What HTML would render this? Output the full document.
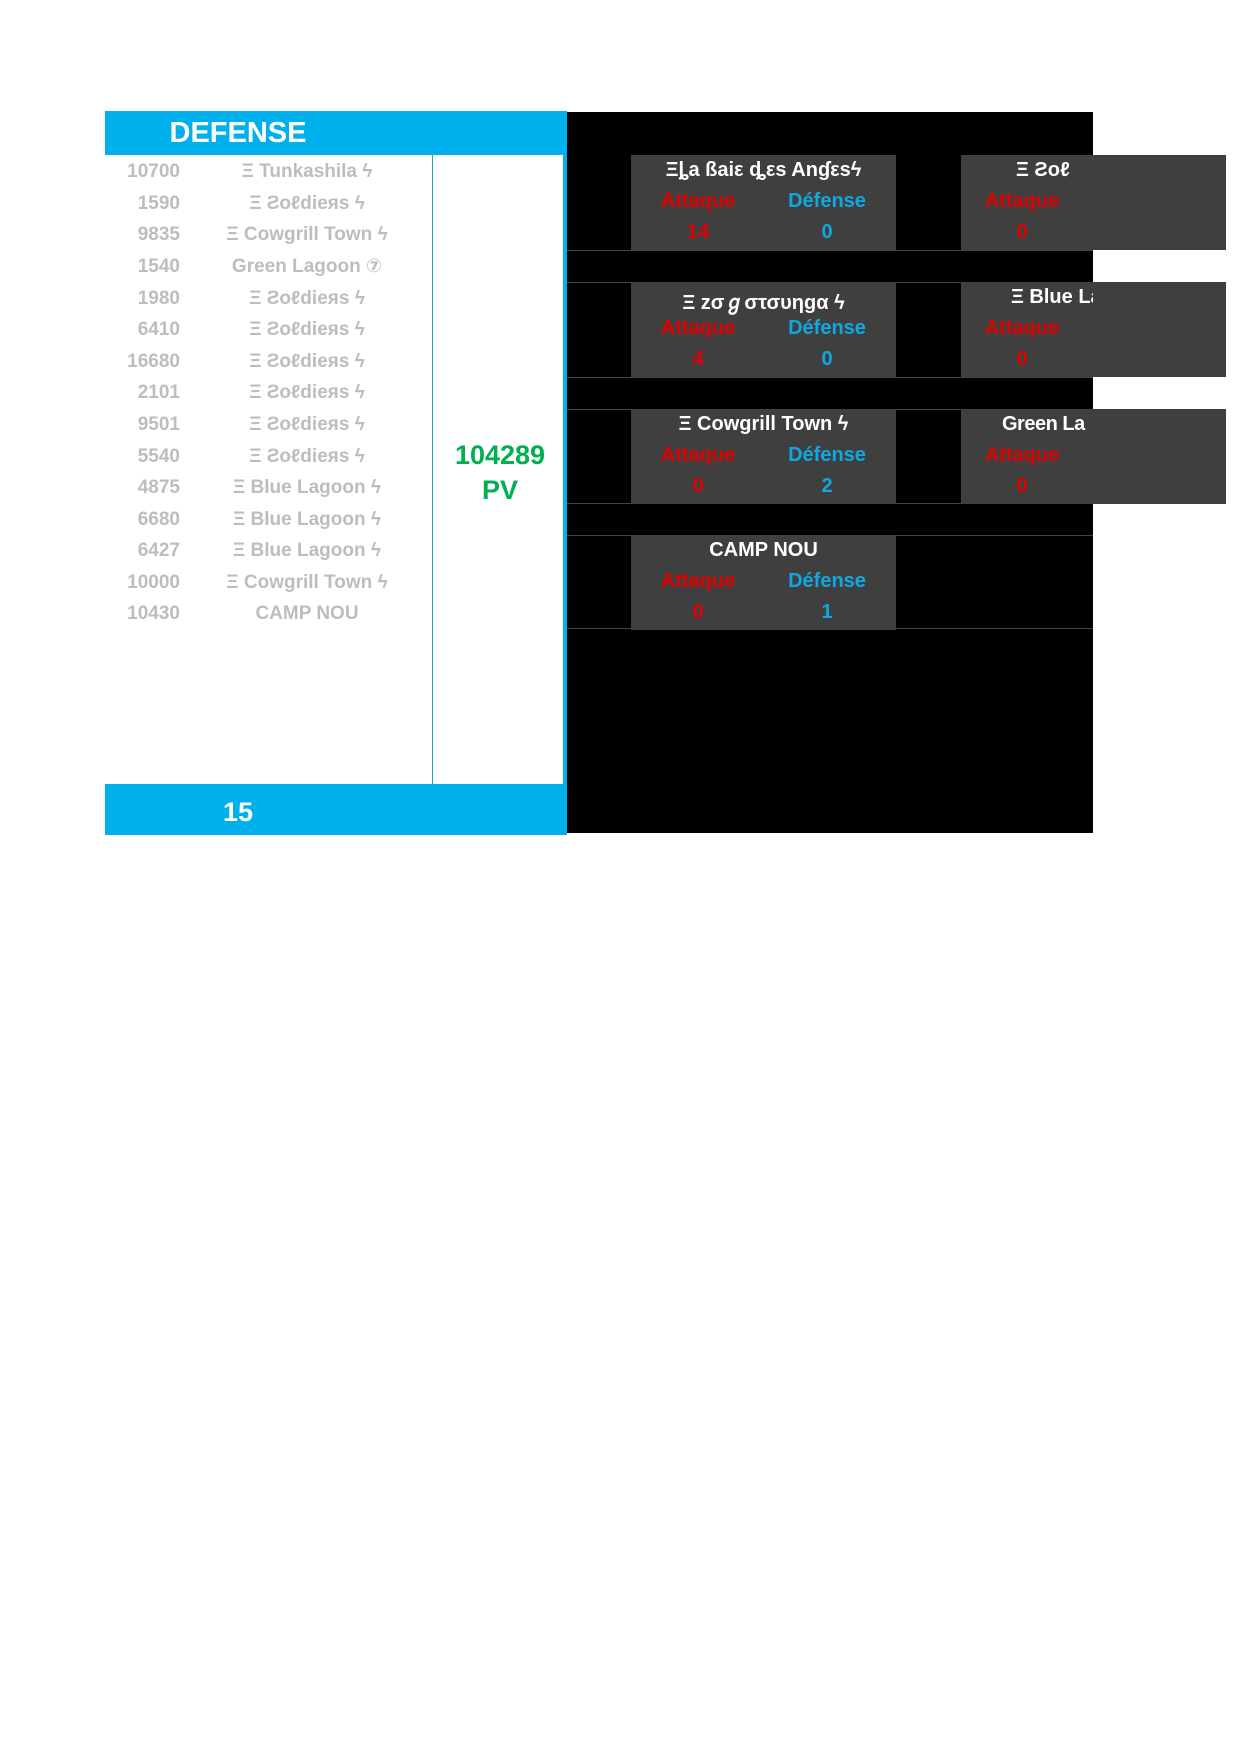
<!DOCTYPE html>
<html><head><meta charset="utf-8"><style>
body{margin:0;width:1241px;height:1754px;background:#fff;position:relative;overflow:hidden;font-family:"Liberation Sans","DejaVu Sans",sans-serif}
.a{position:absolute}
.num{position:absolute;right:1061px;width:100px;text-align:right;color:#bdbdbd;font-size:19px;line-height:22px;font-weight:bold}
.nm{position:absolute;left:207px;width:200px;text-align:center;color:#bdbdbd;font-size:19px;line-height:22px;white-space:nowrap;font-weight:bold}
.card{position:absolute;background:#3f3f3f;width:265px;height:95px}
.t{position:absolute;top:4px;left:0;width:265px;text-align:center;color:#fff;font-weight:bold;font-size:20px;white-space:nowrap}
.at,.df,.av,.dv{position:absolute;text-align:center;font-size:20px;font-weight:bold}
.at{top:35px;left:18px;width:98px;color:#e00000}
.df{top:35px;left:146px;width:100px;color:#10a8e0}
.av{top:66px;left:18px;width:98px;color:#e00000}
.dv{top:66px;left:146px;width:100px;color:#10a8e0}
.hl{position:absolute;left:567px;width:526px;height:1px;background:#444}
</style></head><body>
<div class="a" style="left:105px;top:111px;width:462px;height:44px;background:#00b0ec"></div>
<div class="a" style="left:105px;top:117px;width:266px;text-align:center;color:#fff;font-weight:bold;font-size:29px">DEFENSE</div>
<div class="a" style="left:432px;top:155px;width:1px;height:629px;background:#2a9fc0"></div>
<div class="a" style="left:563px;top:155px;width:4px;height:629px;background:#00b0ec"></div>
<div class="a" style="left:105px;top:784px;width:462px;height:51px;background:#00b0ec"></div>
<div class="a" style="left:105px;top:797px;width:266px;text-align:center;color:#fff;font-weight:bold;font-size:27px">15</div>
<div class="a" style="left:440px;top:438px;width:120px;text-align:center;color:#00b050;font-weight:bold;font-size:27px;line-height:35px">104289<br>PV</div>

<div class="num" style="top:161px">10700</div><div class="nm" style="top:161px">Ξ Tunkashila ϟ</div>
<div class="num" style="top:193px">1590</div><div class="nm" style="top:193px">Ξ Ƨoℓdieяs ϟ</div>
<div class="num" style="top:224px">9835</div><div class="nm" style="top:224px">Ξ Cowgrill Town ϟ</div>
<div class="num" style="top:256px">1540</div><div class="nm" style="top:256px">Green Lagoon ⑦</div>
<div class="num" style="top:288px">1980</div><div class="nm" style="top:288px">Ξ Ƨoℓdieяs ϟ</div>
<div class="num" style="top:319px">6410</div><div class="nm" style="top:319px">Ξ Ƨoℓdieяs ϟ</div>
<div class="num" style="top:351px">16680</div><div class="nm" style="top:351px">Ξ Ƨoℓdieяs ϟ</div>
<div class="num" style="top:382px">2101</div><div class="nm" style="top:382px">Ξ Ƨoℓdieяs ϟ</div>
<div class="num" style="top:414px">9501</div><div class="nm" style="top:414px">Ξ Ƨoℓdieяs ϟ</div>
<div class="num" style="top:446px">5540</div><div class="nm" style="top:446px">Ξ Ƨoℓdieяs ϟ</div>
<div class="num" style="top:477px">4875</div><div class="nm" style="top:477px">Ξ Blue Lagoon ϟ</div>
<div class="num" style="top:509px">6680</div><div class="nm" style="top:509px">Ξ Blue Lagoon ϟ</div>
<div class="num" style="top:540px">6427</div><div class="nm" style="top:540px">Ξ Blue Lagoon ϟ</div>
<div class="num" style="top:572px">10000</div><div class="nm" style="top:572px">Ξ Cowgrill Town ϟ</div>
<div class="num" style="top:603px">10430</div><div class="nm" style="top:603px">CAMP NOU</div>

<div class="a" style="left:567px;top:112px;width:526px;height:721px;background:#000"></div>
<div class="hl" style="top:250px"></div><div class="hl" style="top:282px"></div>
<div class="hl" style="top:377px"></div><div class="hl" style="top:409px"></div>
<div class="hl" style="top:503px"></div><div class="hl" style="top:535px"></div>
<div class="hl" style="top:628px"></div>

<div class="card" style="left:631px;top:155px"><div class="t">Ξȴa ßaiε ȡεs Anɠεsϟ</div><div class="at">Attaque</div><div class="df">Défense</div><div class="av">14</div><div class="dv">0</div></div>
<div class="card" style="left:631px;top:282px"><div class="t">Ξ zσℊστσυηgα ϟ</div><div class="at">Attaque</div><div class="df">Défense</div><div class="av">4</div><div class="dv">0</div></div>
<div class="card" style="left:631px;top:409px"><div class="t">Ξ Cowgrill Town ϟ</div><div class="at">Attaque</div><div class="df">Défense</div><div class="av">0</div><div class="dv">2</div></div>
<div class="card" style="left:631px;top:535px"><div class="t">CAMP NOU</div><div class="at">Attaque</div><div class="df">Défense</div><div class="av">0</div><div class="dv">1</div></div>

<div class="card" style="left:961px;top:155px"><div style="position:absolute;left:0;top:0;width:132px;height:95px;overflow:hidden"><div class="t" style="left:55px;text-align:left;width:200px">Ξ Ƨoℓ</div></div><div class="at" style="left:12px">Attaque</div><div class="av" style="left:12px">0</div></div>
<div class="card" style="left:961px;top:282px"><div style="position:absolute;left:0;top:0;width:132px;height:95px;overflow:hidden"><div class="t" style="left:50px;text-align:left;width:200px">Ξ Blue Lagoon ϟ</div></div><div class="at" style="left:12px">Attaque</div><div class="av" style="left:12px">0</div></div>
<div class="card" style="left:961px;top:409px"><div style="position:absolute;left:0;top:0;width:132px;height:95px;overflow:hidden"><div class="t" style="left:41px;text-align:left;width:200px;letter-spacing:-0.5px">Green La</div></div><div class="at" style="left:12px">Attaque</div><div class="av" style="left:12px">0</div></div>
</body></html>
